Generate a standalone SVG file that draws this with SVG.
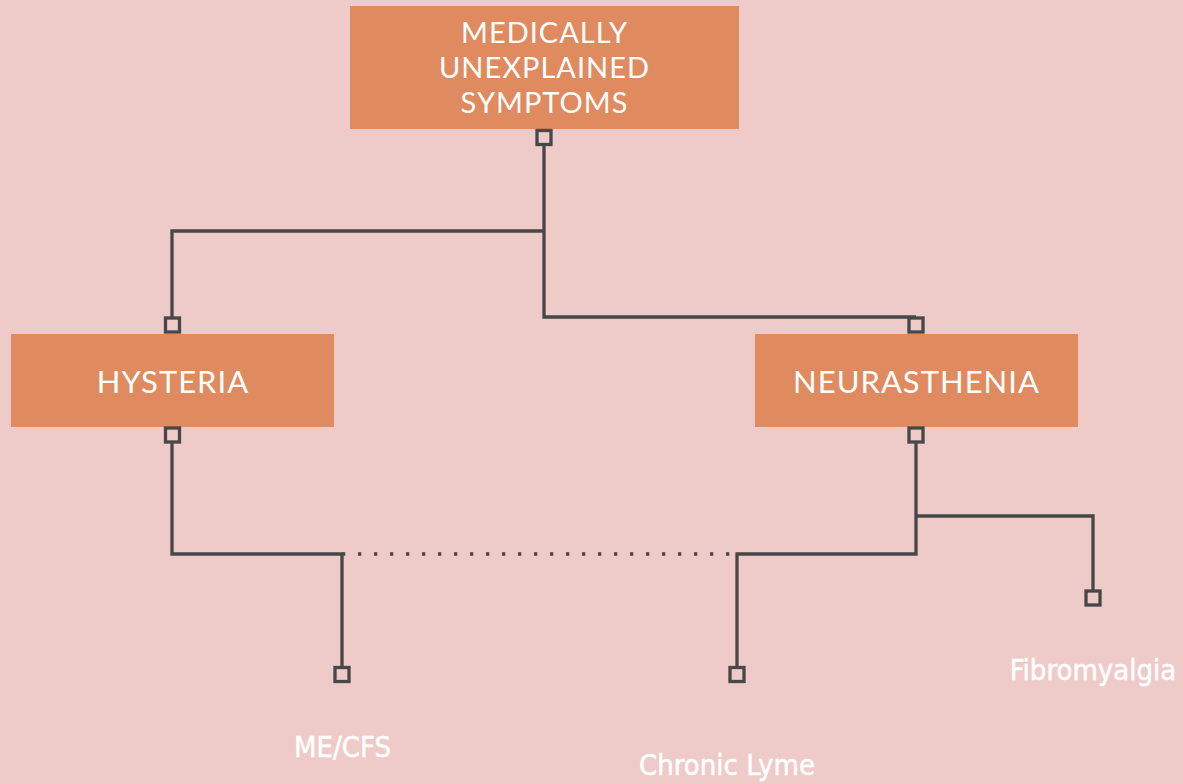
<svg xmlns="http://www.w3.org/2000/svg" width="1183" height="784" viewBox="0 0 1183 784">
<style>
.box{fill:#DF8B5F}
.t{font-family:Lato,"Open Sans",sans-serif;fill:#fff;text-anchor:middle;letter-spacing:1px}
.lbl{font-family:"DejaVu Sans Condensed","DejaVu Sans",sans-serif;font-stretch:condensed;fill:#fff;text-anchor:middle;font-size:29px;stroke:#fff;stroke-width:0.5}
.ln{fill:none;stroke:#474747;stroke-width:3.3;stroke-linejoin:miter}
.dot{fill:none;stroke:#474747;stroke-width:3.3;stroke-dasharray:3.3 12.7}
.port{fill:#EECBC9;stroke:#474747;stroke-width:3.3}
</style>
<rect width="1183" height="784" fill="#EECBC9"/>
<g id="connectors">
<path class="ln" d="M544 146 V317 H916"/>
<path class="ln" d="M544 231 H172 V317"/>
<path class="ln" d="M172 443 V554 H342 V667"/>
<path class="ln" d="M916 443 V554 H737 V667"/>
<path class="ln" d="M916 516 H1093 V590"/>
<path class="dot" d="M342 554 H737"/>
</g>
<g id="node-mus">
<rect class="box" x="350" y="6" width="389" height="123"/>
<text class="t" x="544.5" y="42.7" font-size="29">MEDICALLY</text>
<text class="t" x="544.5" y="78" font-size="29">UNEXPLAINED</text>
<text class="t" x="544.5" y="112.7" font-size="29">SYMPTOMS</text>
<rect class="port" x="537" y="130.5" width="14" height="14"/>
</g>
<g id="node-hysteria">
<rect class="box" x="11" y="334" width="323" height="93"/>
<text class="t" x="173" y="392.7" font-size="31">HYSTERIA</text>
<rect class="port" x="165.5" y="318" width="14" height="14"/>
<rect class="port" x="165.5" y="428" width="14" height="14"/>
</g>
<g id="node-neurasthenia">
<rect class="box" x="755" y="334" width="323" height="93"/>
<text class="t" x="916.5" y="392.7" font-size="31">NEURASTHENIA</text>
<rect class="port" x="909" y="318" width="14" height="14"/>
<rect class="port" x="909" y="428" width="14" height="14"/>
</g>
<g id="node-mecfs">
<rect class="port" x="335" y="667.5" width="14" height="14"/>
<text class="lbl" x="342.5" y="756.7">ME/CFS</text>
</g>
<g id="node-lyme">
<rect class="port" x="730" y="667.5" width="14" height="14"/>
<text class="lbl" x="727" y="775.3">Chronic Lyme</text>
</g>
<g id="node-fibro">
<rect class="port" x="1086" y="591" width="14" height="14"/>
<text class="lbl" x="1093" y="680.3">Fibromyalgia</text>
</g>
</svg>
